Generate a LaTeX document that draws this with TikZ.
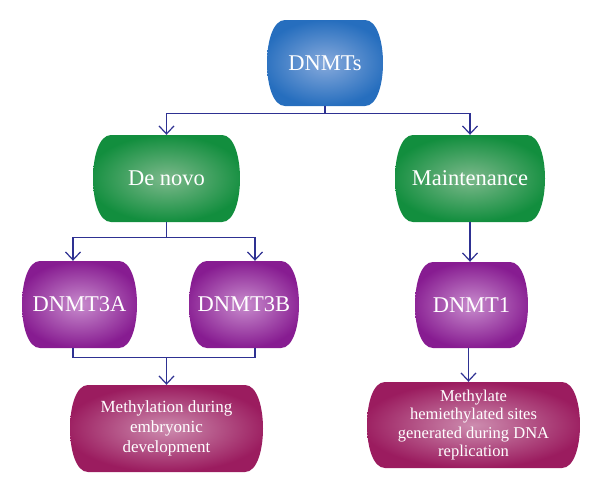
\documentclass[tikz,border=0pt]{standalone}
\usepackage{fontspec}
\setmainfont{Liberation Serif}
\usetikzlibrary{calc,arrows.meta}
\tikzset{>={Straight Barb[length=8pt,width=15pt]}}
\definecolor{linkcol}{HTML}{2E3192}
\definecolor{bluein}{RGB}{135,170,220}
\definecolor{blueout}{RGB}{38,110,190}
\definecolor{greenin}{RGB}{125,185,140}
\definecolor{greenout}{RGB}{18,142,62}
\definecolor{purpin}{RGB}{200,140,205}
\definecolor{purpout}{RGB}{135,28,145}
\definecolor{redin}{RGB}{205,140,175}
\definecolor{redout}{RGB}{155,28,95}
\tikzset{
  barrel/.style 2 args={inner sep=0pt,text=white,align=center,
    path picture={\shade[inner color=#1,outer color=#2]
      ([xshift=18pt]path picture bounding box.north west) --
      ([xshift=-18pt]path picture bounding box.north east)
      .. controls ([xshift=6pt]path picture bounding box.north east)
      and ([xshift=6pt]path picture bounding box.south east) ..
      ([xshift=-18pt]path picture bounding box.south east) --
      ([xshift=18pt]path picture bounding box.south west)
      .. controls ([xshift=-6pt]path picture bounding box.south west)
      and ([xshift=-6pt]path picture bounding box.north west) ..
      ([xshift=18pt]path picture bounding box.north west) -- cycle;}},
  link/.style={draw=linkcol,line width=1.2pt}
}

\begin{document}
\begin{tikzpicture}[x=1pt,y=-1pt]
\useasboundingbox (0,0) rectangle (600,493);

% Top box
\node[barrel={bluein}{blueout},minimum width=116,minimum height=86,
  font=\fontsize{22.5}{24}\selectfont] (dnmts) at (325,63) {DNMTs};

% Second row
\node[barrel={greenin}{greenout},minimum width=147,minimum height=87,
  font=\fontsize{22.5}{24}\selectfont] (denovo) at (166.5,178.5) {De novo};
\node[barrel={greenin}{greenout},minimum width=150,minimum height=87,
  font=\fontsize{22.5}{24}\selectfont] (maint) at (470,178.5) {Maintenance};

% Third row
\node[barrel={purpin}{purpout},minimum width=115,minimum height=87,
  font=\fontsize{22.5}{24}\selectfont] (dnmta) at (79.5,304.5) {DNMT3A};
\node[barrel={purpin}{purpout},minimum width=110,minimum height=87,
  font=\fontsize{22.5}{24}\selectfont] (dnmtb) at (244,304.5) {DNMT3B};
\node[barrel={purpin}{purpout},minimum width=113,minimum height=86,
  font=\fontsize{22.5}{24}\selectfont] (dnmt1) at (471.5,305) {DNMT1};

% Bottom row
\node[barrel={redin}{redout},minimum width=193,minimum height=87,
  font=\fontsize{17}{20}\selectfont] (embryo) at (166.5,428.5)
  {Methylation during\\embryonic\\development};
\node[barrel={redin}{redout},minimum width=213,minimum height=86,
  font=\fontsize{16.5}{18.3}\selectfont] (hemi) at (473.5,425)
  {Methylate\\hemiethylated sites\\generated during DNA\\replication};

% Connectors from the top box
\coordinate (j1) at ($(dnmts.south)+(0,7)$);
\draw[link] (dnmts.south) -- (j1);
\draw[link,->] (j1) -| (denovo.north);
\draw[link,->] (j1) -| (maint.north);

% De novo branch
\coordinate (j2) at ($(denovo.south)+(0,15)$);
\draw[link] (denovo.south) -- (j2);
\draw[link,->] (j2) -| ([xshift=-6.5pt]dnmta.north);
\draw[link,->] (j2) -| ([xshift=11pt]dnmtb.north);
\coordinate (j3) at ($(embryo.north)+(0,-27)$);
\draw[link] ([xshift=-6.5pt]dnmta.south) |- (j3) -| ([xshift=11pt]dnmtb.south);
\draw[link,->] (j3) -- (embryo.north);

% Maintenance branch
\draw[link,->] (maint.south) -- (maint.south |- dnmt1.north);
\draw[link,->] ([xshift=-3pt]dnmt1.south) -- ([xshift=-3pt]dnmt1.south |- hemi.north);
\end{tikzpicture}
\end{document}
